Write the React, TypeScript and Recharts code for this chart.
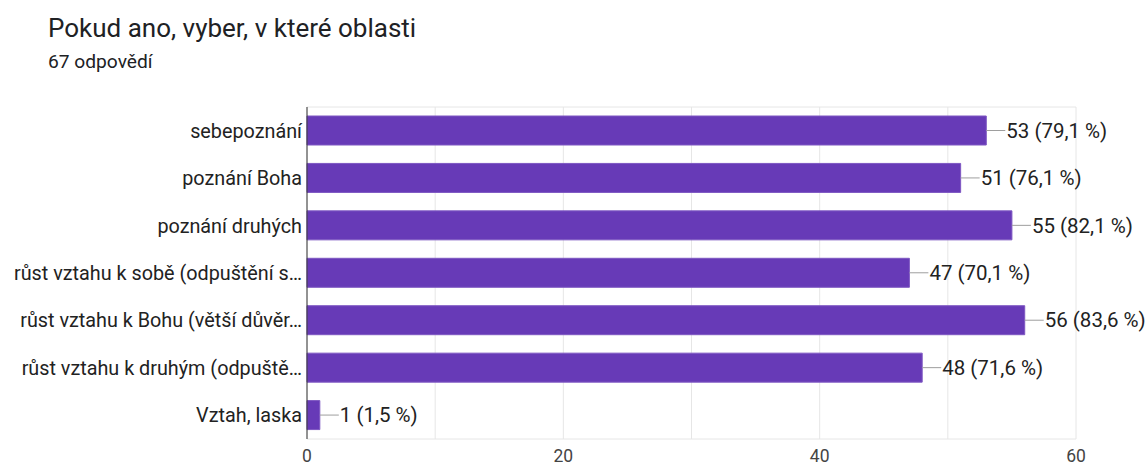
import React from 'react';
import { BarChart, Bar, XAxis, YAxis, CartesianGrid, LabelList } from 'recharts';

const categories = [
  'sebepoznání',
  'poznání Boha',
  'poznání druhých',
  'růst vztahu k sobě (odpuštění s…',
  'růst vztahu k Bohu (větší důvěr…',
  'růst vztahu k druhým (odpuště…',
  'Vztah, laska',
];
const counts = [53, 51, 55, 47, 56, 48, 1];
const percents = ['79,1', '76,1', '82,1', '70,1', '83,6', '71,6', '1,5'];
const xTicks = [0, 10, 20, 30, 40, 50, 60];
const labeledTicks = [0, 20, 40, 60];

const data = categories.map((name, i) => ({ name, value: counts[i], pct: percents[i] }));

const FONT = 'Roboto, "Noto Sans", Arial, sans-serif';

const ValueLabel = (props: any) => {
  const { x, y, width, height, index } = props;
  const ex = Number(x) + Number(width);
  const cy = Number(y) + Number(height) / 2;
  const d = data[index];
  return (
    <g>
      <line x1={ex} y1={cy} x2={ex + 19} y2={cy} stroke="#9e9e9e" strokeWidth={1} />
      <text x={ex + 20} y={cy} dy="0.35em" fontSize={20.5} fill="#222" fontFamily={FONT}>
        {`${d.value} (${d.pct} %)`}
      </text>
    </g>
  );
};

export default function App() {
  return (
    <div style={{ position: 'absolute', left: 0, top: 0, width: 1148, height: 469, background: '#fff', fontFamily: FONT }}>
      <div style={{ position: 'absolute', left: 48, top: 12, fontSize: 26, lineHeight: '32px', color: '#202124', whiteSpace: 'nowrap' }}>
        Pokud ano, vyber, v které oblasti
      </div>
      <div style={{ position: 'absolute', left: 48, top: 51, fontSize: 19.2, lineHeight: '22px', color: '#202124', whiteSpace: 'nowrap' }}>
        67 odpovědí
      </div>
      <div style={{ position: 'absolute', left: 0, top: 0 }}>
        <BarChart
          width={1148}
          height={469}
          data={data}
          layout="vertical"
          margin={{ top: 107, right: 72, bottom: 0, left: 0 }}
        >
          <CartesianGrid
            stroke="#e6e6e6"
            horizontal={true}
            vertical={true}
            horizontalCoordinatesGenerator={(p: any) => [p.offset.top, p.offset.top + p.offset.height]}
          />
          <XAxis
            type="number"
            domain={[0, 60]}
            ticks={xTicks}
            interval={0}
            height={30}
            axisLine={false}
            tickLine={false}
            tickSize={0}
            tickMargin={11}
            tick={{ fontSize: 17.5, fill: '#444', fontFamily: FONT }}
            tickFormatter={(v: number) => (labeledTicks.includes(v) ? String(v) : '')}
          />
          <YAxis
            type="category"
            dataKey="name"
            width={307}
            axisLine={{ stroke: '#333', strokeWidth: 1 }}
            tickLine={false}
            tickSize={0}
            tickMargin={5}
            tick={{ fontSize: 19.8, fill: '#222', fontFamily: FONT }}
          />
          <Bar dataKey="value" fill="#673ab7" stroke="#7e57c2" strokeWidth={1} barSize={29} isAnimationActive={false}>
            <LabelList dataKey="value" content={<ValueLabel />} />
          </Bar>
        </BarChart>
      </div>
    </div>
  );
}
